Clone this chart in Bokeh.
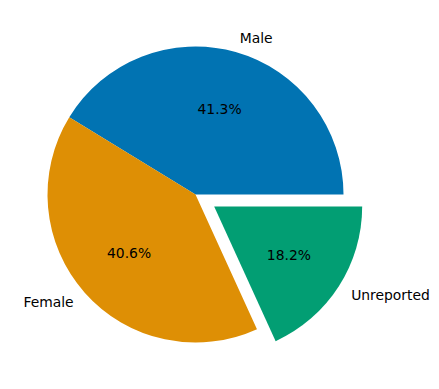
import math
from bokeh.plotting import figure
from bokeh.models import Range1d, ColumnDataSource
from bokeh.core.properties import value
from bokeh.embed import file_html
from bokeh.resources import INLINE

labels = ["Male", "Female", "Unreported"]
shares = [41.3, 40.6, 18.2]
explode = [0.0, 0.0, 0.15]
colors = ["#0173b2", "#de8f05", "#029e73"]

W, H = 431, 381
scale = 148.0   # px per unit radius
cx, cy = 195.0, 194.0  # centre in figure pixels

p = figure(width=W, height=H, output_backend="svg", toolbar_location=None,
           x_range=Range1d(-cx / scale, (W - cx) / scale),
           y_range=Range1d(-(H - cy) / scale, cy / scale),
           min_border=0)
p.axis.visible = False
p.grid.visible = False
p.outline_line_color = None
p.background_fill_color = "white"
p.border_fill_color = "white"

total = sum(shares)
start = 0.0
xs, ys, st, en, lx, ly, px, py, aligns, pct = [], [], [], [], [], [], [], [], [], []
for lab, s, e in zip(labels, shares, explode):
    a0 = start
    a1 = start + 2 * math.pi * s / total
    mid = (a0 + a1) / 2
    ox, oy = e * math.cos(mid), e * math.sin(mid)
    xs.append(ox); ys.append(oy); st.append(a0); en.append(a1)
    lx.append(ox + 1.1 * math.cos(mid)); ly.append(oy + 1.1 * math.sin(mid))
    px.append(ox + 0.6 * math.cos(mid)); py.append(oy + 0.6 * math.sin(mid))
    aligns.append("left" if math.cos(mid) > 0 else "right")
    pct.append(f"{s:.1f}%")
    start = a1

src = ColumnDataSource(dict(x=xs, y=ys, start=st, end=en, color=colors,
                            lx=lx, ly=ly, px=px, py=py, align=aligns,
                            label=labels, pct=pct))

p.wedge(x="x", y="y", radius=1.0, start_angle="start", end_angle="end",
        fill_color="color", line_color=None, source=src)

p.text(x="lx", y="ly", text="label", text_align="align", text_baseline="middle",
       text_font=value("DejaVu Sans"), text_font_size="13.9px", text_color="black",
       source=src)
p.text(x="px", y="py", text="pct", text_align="center", text_baseline="middle",
       text_font=value("DejaVu Sans"), text_font_size="13.9px", text_color="black",
       source=src)

open("out.html", "w").write(file_html(p, INLINE))
